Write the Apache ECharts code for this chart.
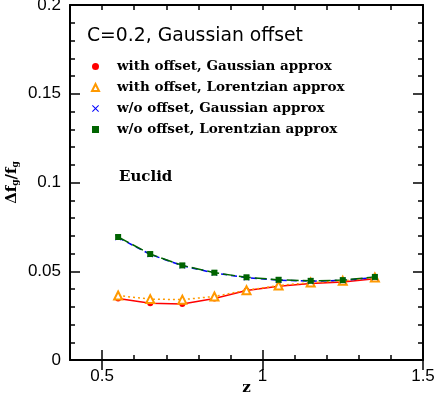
<!DOCTYPE html>
<html>
<head>
<meta charset="utf-8">
<script src="https://cdn.jsdelivr.net/npm/echarts@6/dist/echarts.min.js"></script>
<style>
  html, body { margin: 0; padding: 0; background: #fff; }
  #chart { width: 436px; height: 397px; }
</style>
</head>
<body>
<div id="chart"></div>
<script>
// redshift bins
const zValues = [0.55, 0.65, 0.75, 0.85, 0.95, 1.05, 1.15, 1.25, 1.35];

// relative error on f_g
const withOffsetGauss = [0.0347, 0.0320, 0.0316, 0.0347, 0.0391, 0.0416, 0.0431, 0.0440, 0.0458];
const withOffsetLorentz = [0.0363, 0.0343, 0.0340, 0.0358, 0.0393, 0.0420, 0.0436, 0.0446, 0.0465];
const noOffsetGauss = [0.0690, 0.0595, 0.0531, 0.0490, 0.0464, 0.0450, 0.0444, 0.0448, 0.0465];
const noOffsetLorentz = [0.0693, 0.0597, 0.0533, 0.0492, 0.0466, 0.0452, 0.0446, 0.0450, 0.0468];

const seriesNames = [
    "with offset, Gaussian approx",
    "with offset, Lorentzian approx",
    "w/o offset, Gaussian approx",
    "w/o offset, Lorentzian approx"
];

const xMajorTicks = [0.5, 1, 1.5];

const crossIcon = "path://M0,1L1,0L5,4L9,0L10,1L6,5L10,9L9,10L5,6L1,10L0,9L4,5Z";
const axisFont = "Liberation Sans";
const ink = "#000";

function toPairs(ys) {
    return zValues.map((z, i) => [z, ys[i]]);
}

function xAxisBase(pos) {
    return {
        type: "value",
        position: pos,
        min: 0.4,
        max: 1.5,
        interval: 0.1,
        splitLine: { show: false },
        axisLine: { show: true, onZero: false, lineStyle: { color: ink, width: 2 } },
        axisTick: { show: true, inside: true, length: 5, lineStyle: { color: ink, width: 1.5 } },
        axisLabel: { show: false }
    };
}

function xMajorAxis(pos) {
    return {
        type: "value",
        position: pos,
        min: 0.4,
        max: 1.5,
        splitLine: { show: false },
        axisLine: { show: false },
        axisTick: {
            show: true,
            inside: true,
            length: 10,
            customValues: xMajorTicks,
            lineStyle: { color: ink, width: 1.5 }
        },
        axisLabel: { show: false }
    };
}

function yAxisBase(pos) {
    return {
        type: "value",
        position: pos,
        min: 0,
        max: 0.2,
        interval: 0.05,
        splitLine: { show: false },
        minorSplitLine: { show: false },
        axisLine: { show: true, onZero: false, lineStyle: { color: ink, width: 2 } },
        axisTick: { show: true, inside: true, length: 10, lineStyle: { color: ink, width: 1.5 } },
        minorTick: { show: true, splitNumber: 5, length: 5, lineStyle: { color: ink, width: 1.5 } },
        axisLabel: { show: false }
    };
}

const bottomAxis = xAxisBase("bottom");
bottomAxis.axisLabel = {
    show: true,
    customValues: xMajorTicks,
    color: ink,
    fontFamily: axisFont,
    fontSize: 17,
    margin: 8
};
bottomAxis.name = "z";
bottomAxis.nameLocation = "middle";
bottomAxis.nameGap = 21;
bottomAxis.nameMoveOverlap = false;
bottomAxis.nameTextStyle = { color: ink, fontFamily: "DejaVu Serif", fontWeight: "bold", fontSize: 15 };

const leftAxis = yAxisBase("left");
leftAxis.axisLabel = { show: true, color: ink, fontFamily: axisFont, fontSize: 17, margin: 9 };
leftAxis.name = "{f|Δf}{s|g}{f|/f}{s|g}";
leftAxis.nameLocation = "middle";
leftAxis.nameGap = 50;
leftAxis.nameMoveOverlap = false;
leftAxis.nameTextStyle = {
    rich: {
        f: { color: ink, fontFamily: "DejaVu Serif", fontWeight: "bold", fontSize: 15 },
        s: { color: ink, fontFamily: "DejaVu Serif", fontWeight: "bold", fontSize: 9, padding: [6, 0, 0, 0] }
    }
};

const lineBase = {
    type: "line",
    xAxisIndex: 0,
    yAxisIndex: 0,
    showSymbol: true,
    z: 3
};

const option = {
    backgroundColor: "#fff",
    animation: false,
    title: [
        {
            text: "C=0.2, Gaussian offset",
            left: 87,
            top: 27,
            padding: 0,
            textStyle: { color: ink, fontFamily: "DejaVu Sans", fontWeight: "normal", fontSize: 18.8 }
        },
        {
            text: "Euclid",
            left: 119,
            top: 170,
            padding: 0,
            textStyle: { color: ink, fontFamily: "DejaVu Serif", fontWeight: "bold", fontSize: 15 }
        }
    ],
    legend: {
        orient: "vertical",
        left: 91,
        top: 59,
        padding: 0,
        itemWidth: 7,
        itemHeight: 7,
        itemGap: 6,
        selectedMode: false,
        textStyle: {
            color: ink,
            fontFamily: "DejaVu Serif",
            fontWeight: "bold",
            fontSize: 13.5,
            lineHeight: 15,
            padding: [0, 0, 0, 13]
        },
        data: [
            { name: seriesNames[0], icon: "circle", itemStyle: { color: "#ff0000" } },
            { name: seriesNames[1], icon: "emptyTriangle", itemStyle: { color: "#ff9900", borderColor: "#ff9900", borderWidth: 1.5 } },
            { name: seriesNames[2], icon: crossIcon, itemStyle: { color: "#0000ff" } },
            { name: seriesNames[3], icon: "rect", itemStyle: { color: "#006400" } }
        ]
    },
    grid: { left: 70, right: 13, top: 5, bottom: 37, outerBoundsMode: "none" },
    xAxis: [bottomAxis, xMajorAxis("bottom"), xAxisBase("top"), xMajorAxis("top")],
    yAxis: [leftAxis, yAxisBase("right")],
    series: [
        Object.assign({}, lineBase, {
            name: seriesNames[0],
            data: toPairs(withOffsetGauss),
            symbol: "circle",
            symbolSize: 6,
            itemStyle: { color: "#ff0000" },
            lineStyle: { color: "#ff0000", width: 1.5, type: "solid" }
        }),
        Object.assign({}, lineBase, {
            name: seriesNames[1],
            data: toPairs(withOffsetLorentz),
            symbol: "emptyTriangle",
            symbolSize: 8,
            itemStyle: { color: "#ff9900", borderColor: "#ff9900", borderWidth: 1.5 },
            lineStyle: { color: "#ff9900", width: 1.5, type: [2, 3] }
        }),
        Object.assign({}, lineBase, {
            name: seriesNames[2],
            data: toPairs(noOffsetGauss),
            symbol: crossIcon,
            symbolSize: 6,
            itemStyle: { color: "#0000ff" },
            lineStyle: { color: "#0000ff", width: 1.5, type: [6, 4] }
        }),
        Object.assign({}, lineBase, {
            name: seriesNames[3],
            data: toPairs(noOffsetLorentz),
            symbol: "rect",
            symbolSize: 6,
            itemStyle: { color: "#006400" },
            lineStyle: { color: "#006400", width: 1.5, type: [12, 4] }
        })
    ]
};

const chart = echarts.init(document.getElementById("chart"), null, { renderer: "canvas" });
chart.setOption(option);
window.addEventListener("resize", () => chart.resize());
</script>
</body>
</html>
